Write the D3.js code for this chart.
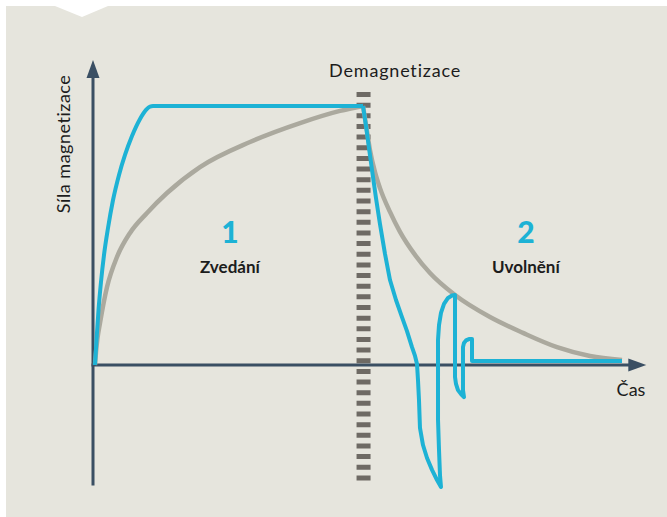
<!DOCTYPE html>
<html>
<head>
<meta charset="utf-8">
<script src="https://cdn.jsdelivr.net/npm/d3@7"></script>
<style>
  html, body { margin: 0; padding: 0; background: #ffffff; }
  svg { display: block; }
  text { font-family: "Lato", "Open Sans", sans-serif; fill: #1c1c1c; }
</style>
</head>
<body>
<svg id="chart" width="667" height="517"></svg>
<script>
// Time axis runs 0..100, magnetizing force is in % of the holding level.
const timeDomain = [0, 100];
const forceDomain = [0, 100];
const axisTimeEnd = 100.6;
const axisForceTop = 117.8;
const axisForceBottom = -46.5;
const demagTime = 49.1;

// Grey curve: ideal build-up of magnetizing force while lifting...
const idealRiseTime  = [0.36, 0.55, 0.82, 1.27, 2.55, 4.36, 6.73, 9.82, 13.45, 19.45, 28.55, 37.64, 44.91, 49.09];
const idealRiseForce = [0, 5.0, 10.4, 16.2, 30.1, 41.7, 51.0, 58.7, 66.4, 76.4, 86.1, 93.4, 98.1, 100];
// ...and its natural decay after switching off.
const idealDecayTime  = [49.09, 49.64, 50.36, 51.27, 52.18, 54.0, 55.82, 58.55, 61.27, 65.82, 72.18, 78.18, 84.36, 90.36, 96.18];
const idealDecayForce = [100, 92.7, 83.0, 74.5, 68.3, 59.1, 51.4, 42.5, 35.5, 27.0, 18.5, 12.4, 6.9, 3.5, 1.9];

// Blue curve: actual force while lifting (fast build-up, then held)...
const liftTime  = [0.36, 0.64, 1.0, 1.45, 2.0, 2.73, 3.64, 4.73, 5.82, 7.09, 8.55, 9.64, 10.36, 10.91, 49.09];
const liftForce = [0, 9.7, 21.2, 32.0, 42.5, 52.9, 63.7, 73.4, 81.1, 88.4, 95.0, 98.5, 99.8, 100, 100];
// ...and during release, with the alternating demagnetizing pulses.
const releaseTime  = [49.09, 49.64, 50.18, 50.73, 51.45, 52.18, 53.09, 54.0, 55.09, 56.18, 57.09, 58.0, 58.55, 58.91,
                      59.09, 59.27, 59.45, 60.0, 60.73, 61.64, 62.55, 63.27,
                      63.09, 62.91, 62.73, 62.73, 62.73, 62.73, 62.91, 63.27, 63.82, 64.55, 65.27, 65.82,
                      65.82, 65.82, 66.0, 66.36, 66.91, 67.45,
                      67.27, 67.27, 67.45, 67.82, 68.36, 68.91,
                      68.91, 96.18];
const releaseForce = [100, 92.3, 83.8, 75.3, 64.5, 54.4, 42.9, 32.8, 25.1, 18.5, 13.1, 6.9, 3.5, 0.4,
                      -5.8, -13.5, -24.3, -30.9, -35.9, -40.5, -44.4, -47.1,
                      -42.5, -32.8, -21.2, -9.7, 1.9, 9.7, 15.4, 20.1, 23.6, 25.9, 26.8, 27.0,
                      25.1, -4.6, -7.3, -9.7, -11.2, -12.4,
                      -9.7, 6.9, 8.5, 9.5, 10.0, 10.0,
                      1.5, 1.5];

const labels = {
  yAxis: "Síla magnetizace",
  xAxis: "Čas",
  demag: "Demagnetizace",
  phases: [
    { num: "1", name: "Zvedání", t: 24.9 },
    { num: "2", name: "Uvolnění", t: 78.7 }
  ]
};

const colors = {
  panel: "#e6e5dd",
  axis: "#3a4f63",
  blue: "#1db2d5",
  grey: "#aba99e",
  dash: "#6e6a64"
};

const svg = d3.select("#chart");

// Panel with the small notch at the top edge
svg.append("rect").attr("x", 6).attr("y", 6).attr("width", 661).attr("height", 511)
  .attr("fill", colors.panel);
svg.append("path").attr("d", "M55,6 L108,6 L82,17 Z").attr("fill", "#ffffff");

const x = d3.scaleLinear().domain(timeDomain).range([93, 643]);
const y = d3.scaleLinear().domain(forceDomain).range([365, 106]);

// Demagnetization marker
svg.append("line")
  .attr("x1", x(demagTime) + 0.5).attr("x2", x(demagTime) + 0.5)
  .attr("y1", 92).attr("y2", y(axisForceBottom))
  .attr("stroke", colors.dash).attr("stroke-width", 14)
  .attr("stroke-dasharray", "5 5.65");

svg.append("text")
  .attr("x", x(demagTime) + 32).attr("y", 77)
  .attr("text-anchor", "middle").attr("font-size", 18)
  .attr("letter-spacing", 0.8)
  .text(labels.demag);

// Axes
const axisG = svg.append("g");
axisG.append("line")
  .attr("x1", x(0)).attr("x2", x(0))
  .attr("y1", y(axisForceBottom)).attr("y2", y(axisForceTop) + 10)
  .attr("stroke", colors.axis).attr("stroke-width", 3);
axisG.append("path")
  .attr("d", `M${x(0)},${y(axisForceTop)} L${x(0) + 6.5},${y(axisForceTop) + 18} L${x(0) - 6.5},${y(axisForceTop) + 18} Z`)
  .attr("fill", colors.axis);
axisG.append("line")
  .attr("x1", x(0) - 1.5).attr("x2", x(axisTimeEnd) - 10)
  .attr("y1", y(0)).attr("y2", y(0))
  .attr("stroke", colors.axis).attr("stroke-width", 3);
axisG.append("path")
  .attr("d", `M${x(axisTimeEnd)},${y(0)} L${x(axisTimeEnd) - 18},${y(0) - 6.5} L${x(axisTimeEnd) - 18},${y(0) + 6.5} Z`)
  .attr("fill", colors.axis);

// Curves
const smooth = d3.line().x(d => x(d[0])).y(d => y(d[1])).curve(d3.curveMonotoneX);
const traced = d3.line().x(d => x(d[0])).y(d => y(d[1])).curve(d3.curveLinear);

const greyG = svg.append("g").attr("fill", "none").attr("stroke", colors.grey)
  .attr("stroke-width", 4.5).attr("stroke-linejoin", "round").attr("stroke-linecap", "butt");
greyG.append("path").datum(d3.zip(idealRiseTime, idealRiseForce)).attr("d", smooth);
greyG.append("path").datum(d3.zip(idealDecayTime, idealDecayForce)).attr("d", smooth);

const blueG = svg.append("g").attr("fill", "none").attr("stroke", colors.blue)
  .attr("stroke-width", 4).attr("stroke-linejoin", "round").attr("stroke-linecap", "butt");
blueG.append("path").datum(d3.zip(liftTime, liftForce)).attr("d", smooth);
blueG.append("path").datum(d3.zip(releaseTime, releaseForce)).attr("d", traced);

// Axis titles
svg.append("text")
  .attr("transform", `translate(70,144) rotate(-90)`)
  .attr("text-anchor", "middle").attr("font-size", 18)
  .attr("letter-spacing", 0.5)
  .text(labels.yAxis);

svg.append("text")
  .attr("x", 631).attr("y", 396)
  .attr("text-anchor", "middle").attr("font-size", 18)
  .text(labels.xAxis);

// Phase labels
labels.phases.forEach(p => {
  svg.append("text")
    .attr("x", x(p.t)).attr("y", 243)
    .attr("text-anchor", "middle").attr("font-size", 30).attr("font-weight", 900)
    .style("fill", colors.blue)
    .text(p.num);
  svg.append("text")
    .attr("x", x(p.t)).attr("y", 273)
    .attr("text-anchor", "middle").attr("font-size", 17).attr("font-weight", 700)
    .text(p.name);
});
</script>
</body>
</html>
